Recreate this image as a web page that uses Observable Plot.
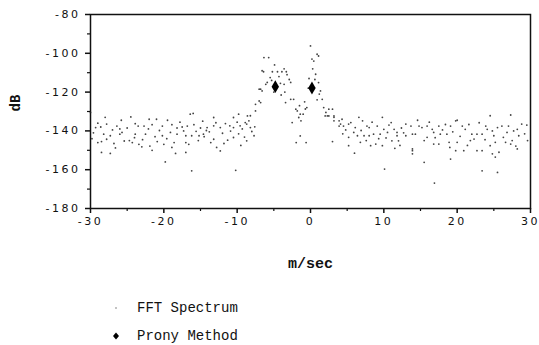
<!DOCTYPE html>
<html>
<head>
<meta charset="utf-8">
<script src="https://cdn.jsdelivr.net/npm/d3@7"></script>
<script src="https://cdn.jsdelivr.net/npm/@observablehq/plot@0.6"></script>
<style>
  html, body { margin: 0; padding: 0; background: white; }
  #wrap { position: relative; width: 539px; height: 345px; overflow: hidden; }
  .leg { position: absolute; left: 108px; font-family: "Liberation Mono", "DejaVu Sans Mono", monospace; font-size: 14px; line-height: 16px; color: #111; display: flex; align-items: center; }
  .leg svg { width: 16px; height: 12px; margin-right: 13px; overflow: visible; }
  .chart [aria-label="x-axis tick label"] text,
  .chart [aria-label="y-axis tick label"] text { letter-spacing: 2.5px; }
</style>
</head>
<body>
<div id="wrap"></div>
<script>
// FFT spectrum samples (m/sec, dB)
const fftX = [
  -30,-28,-24.5,-22,-21,-19.5,-16,-14.7,-29,-29.3,-28.6,-26.4,-26,-23.9,-23.5,-22.7,-21.6,-20.2,-18.9,-18.2,-17.5,-15.9,-15,
  -28.2,-27.3,-26,-25.7,-23.9,-22.5,-20.2,-19.1,-18.2,-17,-16.2,-15.2,-29,-28.5,-27.8,-25.4,-24.7,-24.3,-23.4,-20.9,-20,-18.6,-17,-16.6,
  -28.5,-27.3,-21.6,-18.4,-17,-19.8,-16.2,
  -29.6,-29.8,-27,-26.8,-25,-24,-22.9,-22.1,-21.2,-20.6,-19.6,-18.9,-17.8,-17.3,-16.8,-15.6,-15.3,-14.5,-25.8,-27.8,-23,-26.6,-21.9,-14.2,
  -14.1,-13.2,-12.3,-11,-10.5,-9.6,-8.7,-8.2,-7.7,-14.6,-13.2,-12.8,-12.3,-10.5,-8.7,-10.2,-16.4,-13.2,-10.5,-8.6,
  -13.8,-12.9,-12,-11.6,-11.3,-10.9,-10,-9.8,-9.3,-9,-8.4,-8,-7.6,-11.8,-13.6,-9.5,
  -7.5,-7,-6.8,-6.6,-6.35,-5.9,-5.7,-6.4,-5.2,-4.5,-3.9,-3.3,-5.5,-5.3,-4.7,-4.1,-3.6,-6.1,-7,-6.6,-6.8,-7.5,-8.2,-8.9,-9.8,
  -3.4,-2.7,-2,-1.8,-1.6,-1.4,-0.7,-0.5,-1.3,-0.6,-3.6,-3.2,-2.9,-2.7,-2.3,-1.5,-1,-0.8,-2.5,-1.4,-1.95,-4.9,-4.3,-3.5,-4,-5,
  0,0.2,0.7,0.9,1.1,0.45,1.1,0.3,-0.2,0.6,1.36,1.6,1.8,2.5,3,2.3,3.2,3.9,1.2,-0.3,0.9,2.1,
  2.0,2.5,3.2,3.2,4.3,4.1,3.9,4.5,5.2,5.5,6.6,7.1,6.1,7.7,8,9.1,9.8,10,10.5,11,11.4,11.8,13,13.7,13.9,
  5.2,5.9,6.4,7.3,8,8.6,9.5,11.8,13,5.2,6.8,8.2,8.9,9.8,11.1,12,13.9,10.1,
  4.8,6.9,8.4,9.3,10.7,12.4,12.7,10.3,7.6,4.4,12.2,11.5,6,3,
  14.8,15.2,14.3,15.9,16.6,16.8,17.5,18.4,19.1,19.8,17.7,18.6,15.9,15.5,16.8,17.5,18.9,20,20.7,21.1,21.6,22,22.7,23.4,21.8,22.3,
  23.9,24.1,24.8,25.5,26.1,27,27.7,28.2,28.4,26.3,26.6,27.5,24.5,25.2,25.7,23.4,22.7,20.9,19.8,13.9,13.9,24.8,28.2,27.3,24.5,27.3,20,
  15.5,19.1,25.2,23.4,25.5,16.9,29.5,29.6,29.2,
  14.6,16.2,17,18,19.4,20.4,21.4,23,23.8,25,26.8,28.8,19,28
];
const fftY = [
  -130.5,-133,-132.8,-134,-134,-134.5,-131,-135,-136,-138.3,-138,-137.5,-139,-136.3,-137.5,-137.5,-136.8,-137.5,-136.8,-138.5,-138,-136.8,-138.5,
  -141.7,-142.5,-141.7,-140.8,-141.7,-141.7,-142.5,-140.8,-141.7,-142.5,-142.5,-142.5,-146,-145.5,-144.3,-145.2,-145,-146,-146.9,-145.5,-146.9,-146,-146,-146.9,
  -151.1,-151.6,-150,-151.6,-151.1,-156,-160.6,
  -141,-144,-139.5,-146.5,-138.5,-143.5,-144.5,-139,-143,-139.8,-144,-148.5,-135.5,-140,-137.5,-140.2,-145,-143,-134.5,-136.5,-148.2,-148.8,-147.8,-139.8,
  -138.3,-137.4,-138.3,-137.4,-138.3,-137.4,-136.5,-138.3,-142.5,-141.7,-144.3,-148.5,-150.3,-143.4,-145.1,-160.3,-131.4,-133.1,-133.1,-132.3,
  -140.5,-135.8,-141.2,-136.2,-144.8,-140.1,-135.5,-141.5,-139,-143.2,-134.8,-140.3,-137.9,-146.5,-146,-147.5,
  -126.3,-124.6,-118.5,-109,-102.2,-115,-102.2,-109.5,-109.5,-109.5,-109.5,-109.5,-112.5,-114,-116.5,-115.5,-116,-116,-118.5,-119.4,-125.4,-129.7,-132.2,-135.7,-131.4,
  -125.4,-123.7,-128.8,-129.7,-133.1,-131.4,-128.7,-128,-134.8,-146,-108,-111,-113.5,-115,-123.7,-127,-131.4,-125,-135.7,-142.6,-146,-106,-112,-120,-121.5,-120,
  -96.2,-103,-110.8,-100.5,-115.1,-104,-101.4,-108,-113,-113.5,-119.4,-123.7,-128,-128.8,-128.8,-132.3,-132.3,-134.8,-121,-118,-124,-130.5,
  -132.3,-132.3,-133,-134.8,-134,-136.5,-137.5,-137.5,-136.5,-135.7,-133,-134.8,-138.3,-137.5,-138.3,-137.5,-133,-139.2,-140.8,-135.7,-139.2,-140.8,-136.5,-137.5,-141.7,
  -143.3,-140.8,-142.5,-142.5,-142.5,-141.7,-141.7,-142.5,-142.5,-147.6,-145.9,-147.6,-146.8,-147.6,-145.1,-145.1,-149.3,-159.7,
  -139.5,-139.8,-135.5,-144,-137,-138.5,-141,-143.6,-145,-141.5,-147.5,-149,-151.5,-145.5,
  -137.5,-138.3,-141.7,-137.5,-139.2,-140.8,-137.5,-136.7,-137.5,-134.8,-141.7,-141.7,-143.3,-145,-146.8,-146.8,-145.9,-145.9,-137.5,-139.2,-136.7,-141.7,-141.7,-141.7,-145,-144.2,
  -137.5,-139.2,-140,-138.3,-137.5,-137.5,-140,-139.2,-142.5,-143.3,-145.9,-145,-147.6,-145.9,-151,-150.2,-150.2,-150.2,-150.2,-150.2,-151.8,-151.8,-149.3,-146.8,-132.2,-131.8,-134.5,
  -156.2,-154.5,-153.5,-160.6,-161.4,-166.9,-137,-145,-141.5,
  -134.5,-135.5,-143.5,-139.5,-140.5,-142.8,-147.5,-135.8,-144.5,-142.5,-140.8,-136.5,-148.5,-147.8
];
// Prony method estimates
const pronyX = [-4.8, 0.2];
const pronyY = [-117.2, -117.9];

const xMajor = [-30, -20, -10, 0, 10, 20, 30];
const xMinor = [-25, -15, -5, 5, 15, 25];
const yMajor = [-180, -160, -140, -120, -100, -80];
const yMinor = [-170, -150, -130, -110, -90];
const legendLabels = ["FFT Spectrum", "Prony Method"];

const fft = fftX.map((x, i) => ({x, y: fftY[i]}));
const prony = pronyX.map((x, i) => ({x, y: pronyY[i]}));
const fmt = d => d < 0 ? "-" + Math.abs(d) : String(d);
const mono = "Liberation Mono, DejaVu Sans Mono, monospace";

const chart = Plot.plot({
  width: 539,
  height: 285,
  marginTop: 14,
  marginLeft: 90,
  marginRight: 9,
  marginBottom: 77,
  className: "chart",
  style: {fontFamily: "DejaVu Sans, sans-serif", fontSize: "11px", background: "white", color: "#111"},
  x: {domain: [-30, 30]},
  y: {domain: [-180, -80]},
  marks: [
    Plot.axisX({ticks: xMajor, tickSize: 5, tickPadding: 4, tickFormat: fmt, label: null, strokeWidth: 1.5}),
    Plot.axisX({ticks: xMinor, tickSize: 3, tickFormat: () => "", label: null, strokeWidth: 1.2}),
    Plot.axisY({ticks: yMajor, tickSize: 5, tickPadding: 5, tickFormat: fmt, label: null, strokeWidth: 1.5}),
    Plot.axisY({ticks: yMinor, tickSize: 3, tickFormat: () => "", label: null, strokeWidth: 1.2}),
    Plot.frame({stroke: "#111", strokeWidth: 1.5}),
    Plot.dot(fft, {x: "x", y: "y", r: 0.9, fill: "#222", fillOpacity: 0.85}),
    Plot.dot(prony, {x: "x", y: "y", symbol: "diamond", r: 3.9, fill: "#000"}),
    Plot.text(["m/sec"], {frameAnchor: "bottom", dy: 59, fontFamily: mono, fontSize: 15, fontWeight: "bold", fill: "#111"}),
    Plot.text(["dB"], {frameAnchor: "left", dx: -75, rotate: -90, fontFamily: mono, fontSize: 14, fontWeight: "bold", fill: "#111"})
  ]
});

const wrap = document.getElementById("wrap");
wrap.appendChild(chart);

const l1 = document.createElement("div");
l1.className = "leg";
l1.style.top = "300px";
l1.innerHTML = '<svg viewBox="0 0 16 12"><circle cx="8" cy="6" r="0.8" fill="#777"/></svg><span></span>';
l1.querySelector("span").textContent = legendLabels[0];
wrap.appendChild(l1);

const l2 = document.createElement("div");
l2.className = "leg";
l2.style.top = "328px";
l2.innerHTML = '<svg viewBox="0 0 16 12"><path d="M8 2.5 L11 6 L8 9.5 L5 6 Z" fill="#000"/></svg><span></span>';
l2.querySelector("span").textContent = legendLabels[1];
wrap.appendChild(l2);
</script>
</body>
</html>
